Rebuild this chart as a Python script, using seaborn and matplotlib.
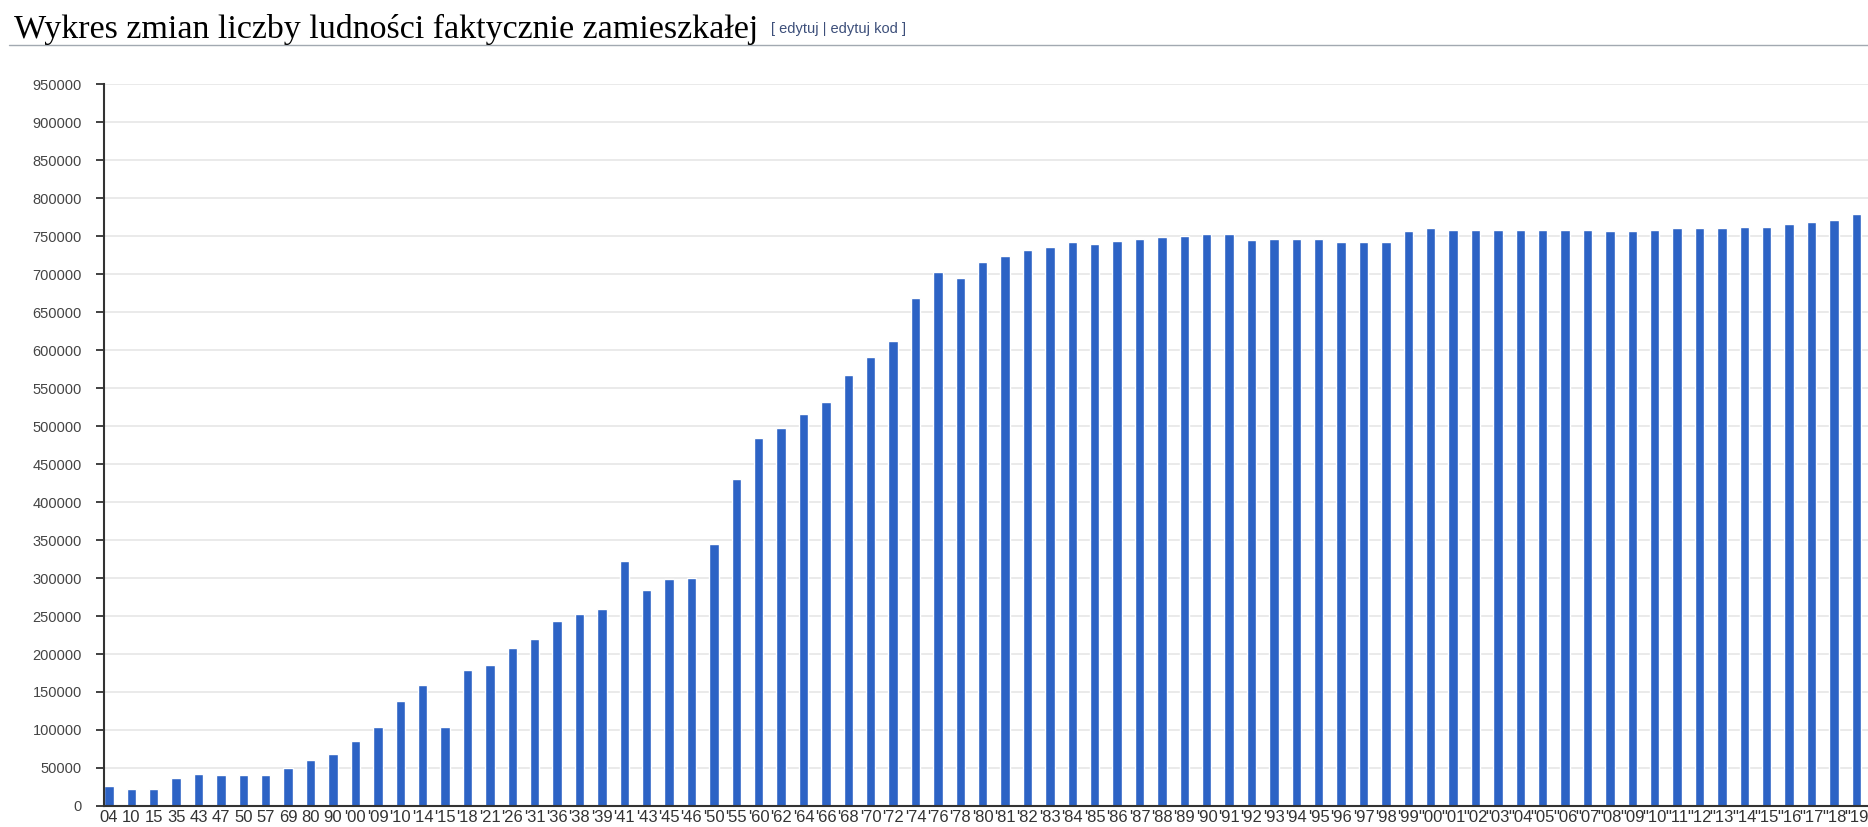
import numpy as np
import pandas as pd
import matplotlib

matplotlib.use("Agg")
import matplotlib.pyplot as plt
import seaborn as sns

# year labels as printed under the bars (1800s plain, 1900s ', 2000s ")
years_1800 = ["04", "10", "15", "35", "43", "47", "50", "57", "69", "80", "90"]
years_1900 = ["00", "09", "10", "14", "15", "18", "21", "26", "31", "36",
              "38", "39", "41", "43", "45", "46", "50", "55", "60", "62",
              "64", "66", "68", "70", "72", "74", "76", "78", "80", "81",
              "82", "83", "84", "85", "86", "87", "88", "89", "90", "91",
              "92", "93", "94", "95", "96", "97", "98", "99"]
years_2000 = ["00", "01", "02", "03", "04", "05", "06", "07", "08", "09",
              "10", "11", "12", "13", "14", "15", "16", "17", "18", "19"]

pop_1800 = [26500, 22600, 22600, 36300, 42000, 40300, 40300, 40300,
            50000, 60200, 68100]
pop_1900 = [85800, 103500, 137600, 159700, 103500, 179600, 185400, 207500,
            219500, 243400, 253100, 259300, 322800, 284700, 298700, 300400,
            344700, 430000, 483600, 497300, 515500, 531400, 566800, 590300,
            612000, 668600, 702200, 694200, 715900, 723900, 731900, 735800,
            741600, 739800, 743800, 746300, 748200, 750400, 752600, 752600,
            744800, 746500, 746500, 746500, 742600, 742600, 742600, 756100]
pop_2000 = [760000, 758300, 758300, 758300, 758300, 758300, 758300, 758300,
            756100, 756100, 758300, 760000, 760000, 760000, 761700, 761700,
            765700, 767800, 771700, 779600]

TITLE = "Wykres zmian liczby ludności faktycznie zamieszkałej"
BAR_COLOR = "#2d63c5"

labels = (years_1800 + ["'" + y for y in years_1900]
          + ['"' + y for y in years_2000])
values = pop_1800 + pop_1900 + pop_2000
df = pd.DataFrame({"label": labels, "population": values})

sns.set_theme(style="white")
plt.rcParams["font.family"] = ["Liberation Sans", "DejaVu Sans"]

fig = plt.figure(figsize=(18.68, 8.27), dpi=100)
ax = fig.add_axes([0.0557, 0.0254, 0.9443, 0.873])

sns.barplot(data=df, x="label", y="population", order=labels,
            color=BAR_COLOR, saturation=1, width=0.42, ax=ax)

ax.set_xlim(-0.22, len(labels) - 1 + 0.52)
ax.set_ylim(0, 950000)
yt = np.arange(0, 950001, 50000)
ax.set_yticks(yt)
ax.set_yticklabels([str(v) for v in yt])
ax.yaxis.grid(True, color="#e6e6e6", linewidth=1.2)
ax.set_axisbelow(True)
ax.set_xlabel("")
ax.set_ylabel("")

for side in ["top", "right"]:
    ax.spines[side].set_visible(False)
ax.spines["left"].set_color("#333333")
ax.spines["left"].set_linewidth(1.5)
ax.spines["bottom"].set_color("#333333")
ax.spines["bottom"].set_linewidth(1.5)

ax.tick_params(axis="y", length=6, width=1.3, color="#333333", pad=10,
               labelsize=10.5, labelcolor="#444444", left=True)
ax.tick_params(axis="x", length=0, pad=3, labelcolor="#333333")
for lab in ax.get_xticklabels():
    lab.set_family(["Liberation Sans Narrow", "Liberation Sans"])
    lab.set_fontsize(12)

# page header above the chart
fig.text(0.0075, 0.954, TITLE, family=["Liberation Serif", "DejaVu Serif"],
         fontsize=24.5, color="#000000", va="baseline", ha="left")
fig.text(0.413, 0.960, "[ edytuj | edytuj kod ]", fontsize=10.5,
         color="#3d4f7a", va="baseline", ha="left")
fig.add_artist(plt.Line2D([0.005, 1.0], [0.946, 0.946], color="#a2a9b1",
                          linewidth=1.0, transform=fig.transFigure))

fig.savefig("out.png", dpi=100)
